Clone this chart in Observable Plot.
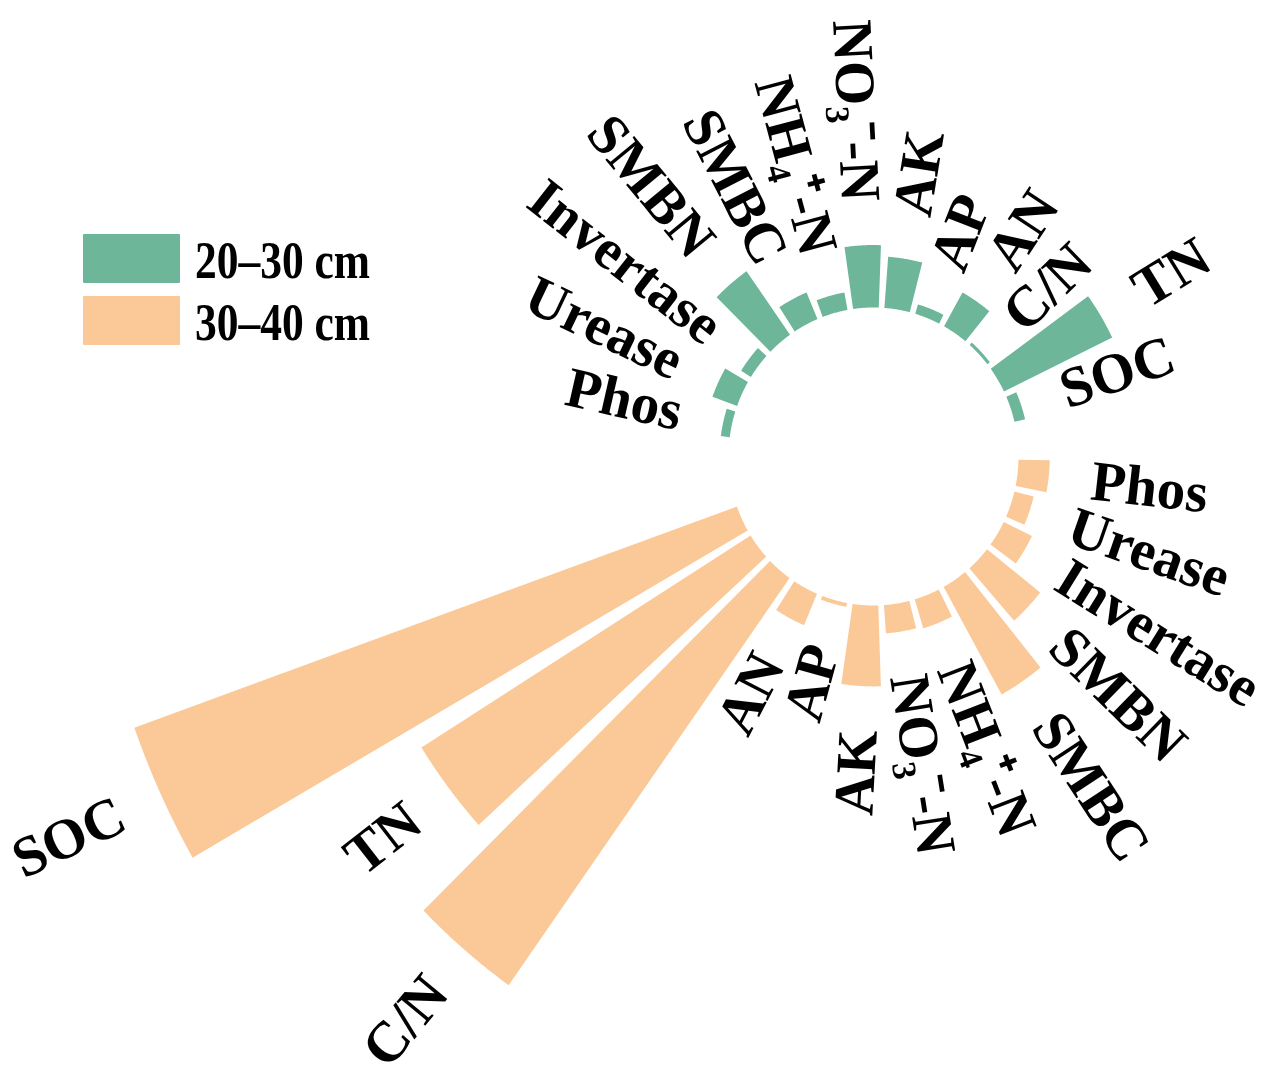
<!DOCTYPE html>
<html>
<head>
<meta charset="utf-8">
<script src="https://cdn.jsdelivr.net/npm/d3@7"></script>
<script src="https://cdn.jsdelivr.net/npm/@observablehq/plot@0.6"></script>
<style>
  html, body { margin: 0; padding: 0; background: #fff; }
  #wrap { position: relative; width: 1280px; height: 1086px; overflow: hidden; }
  .legend { position: absolute; left: 83px; top: 234px; font-family: "Liberation Serif", "Times New Roman", serif; font-weight: bold; }
  .legend .item { position: relative; height: 62px; }
  .legend .sw { position: absolute; left: 0; top: 0; width: 97px; height: 49px; border-radius: 1px; }
  .legend .lb { position: absolute; left: 112px; top: -5px; font-size: 53px; line-height: 62px; white-space: nowrap; transform: scaleX(0.82); transform-origin: left center; color: #000; }
</style>
</head>
<body>
<div id="wrap"></div>
<script>
// ---------------- data ----------------
const variables = ["Phos", "Urease", "Invertase", "SMBN", "SMBC", "NH₄⁺-N", "NO₃⁻-N", "AK", "AP", "AN", "C/N", "TN", "SOC"];
const depths = ["20–30 cm", "30–40 cm"];
const depthColors = ["#6db69a", "#fbc998"];
// relative importance (SOC at 30–40 cm = 100)
const values2030 = [1.4, 4.1, 1.8, 11.8, 4.4, 2.7, 9.5, 7.8, 1.5, 5.9, 0.5, 18.8, 1.7];
const values3040 = [4.9, 3.1, 4.9, 10.6, 18.7, 4.6, 4.3, 12.3, 0.6, 5.2, 75.9, 60.7, 100];

// ---------------- layout ----------------
const width = 1280, height = 1086;
const cx = 873, cy = 456;      // centre of the circle (px)
const xUnit = 0.973;           // horizontal px per radial unit
const innerR = 149;            // radius of the hole
const outerMax = 806.6;        // radius reached by value 100
const labelGap = 44;
const theta0 = -6.3;           // angle of first slot (deg, counter-clockwise from east)
const barFrac = 0.82;

const rScale = d3.scaleLinear().domain([0, 100]).range([innerR, outerMax]);

// slot order, clockwise: 30–40 cm group, 2 empty slots, 20–30 cm group, 1 empty slot
const slots = [
  ...variables.map((v, i) => ({depth: "30–40 cm", variable: v, value: values3040[i]})),
  null, null,
  ...variables.map((v, i) => ({depth: "20–30 cm", variable: v, value: values2030[i]})),
  null
];
const step = 360 / slots.length;
const rad = (d) => d * Math.PI / 180;

const bars = [];
slots.forEach((s, k) => {
  if (!s) return;
  bars.push({...s, key: s.depth + "|" + s.variable, theta: theta0 - k * step});
});

// wedge outlines (data space)
const N = 30;
const barPts = [];
for (const b of bars) {
  const a1 = b.theta - step * barFrac / 2, a2 = b.theta + step * barFrac / 2;
  const r1 = innerR, r2 = rScale(b.value);
  for (let j = 0; j <= N; j++) {
    const a = rad(a1 + (a2 - a1) * j / N);
    barPts.push({key: b.key, depth: b.depth, x: r1 * Math.cos(a), y: r1 * Math.sin(a)});
  }
  for (let j = N; j >= 0; j--) {
    const a = rad(a1 + (a2 - a1) * j / N);
    barPts.push({key: b.key, depth: b.depth, x: r2 * Math.cos(a), y: r2 * Math.sin(a)});
  }
}

// labels
const labels = bars.map((b) => {
  const t = rad(b.theta);
  const r = rScale(b.value) + labelGap;
  const right = Math.cos(t) >= 0;
  let rot = Math.atan2(-Math.sin(t), xUnit * Math.cos(t)) * 180 / Math.PI;
  if (!right) rot += 180;
  return {text: b.variable, x: r * Math.cos(t), y: r * Math.sin(t), rotate: rot, right};
});

const font = {fontFamily: "'Liberation Serif', 'Times New Roman', serif", fontWeight: "bold", fontSize: 57, fill: "#000"};

const chart = Plot.plot({
  width, height,
  margin: 0,
  style: {background: "#fff", overflow: "visible"},
  x: {domain: [-cx / xUnit, (width - cx) / xUnit], axis: null},
  y: {domain: [-(height - cy), cy], axis: null},
  color: {domain: depths, range: depthColors},
  marks: [
    Plot.line(barPts, {x: "x", y: "y", z: "key", fill: "depth", stroke: "none", curve: "linear-closed"}),
    Plot.text(labels.filter((d) => d.right), {x: "x", y: "y", text: "text", rotate: "rotate", textAnchor: "start", ...font}),
    Plot.text(labels.filter((d) => !d.right), {x: "x", y: "y", text: "text", rotate: "rotate", textAnchor: "end", ...font})
  ]
});

const wrap = document.getElementById("wrap");
wrap.appendChild(chart);

// legend
const legend = document.createElement("div");
legend.className = "legend";
depths.forEach((d, i) => {
  const item = document.createElement("div");
  item.className = "item";
  const sw = document.createElement("div");
  sw.className = "sw";
  sw.style.background = depthColors[i];
  const lb = document.createElement("div");
  lb.className = "lb";
  lb.textContent = d;
  item.appendChild(sw);
  item.appendChild(lb);
  legend.appendChild(item);
});
wrap.appendChild(legend);
</script>
</body>
</html>
